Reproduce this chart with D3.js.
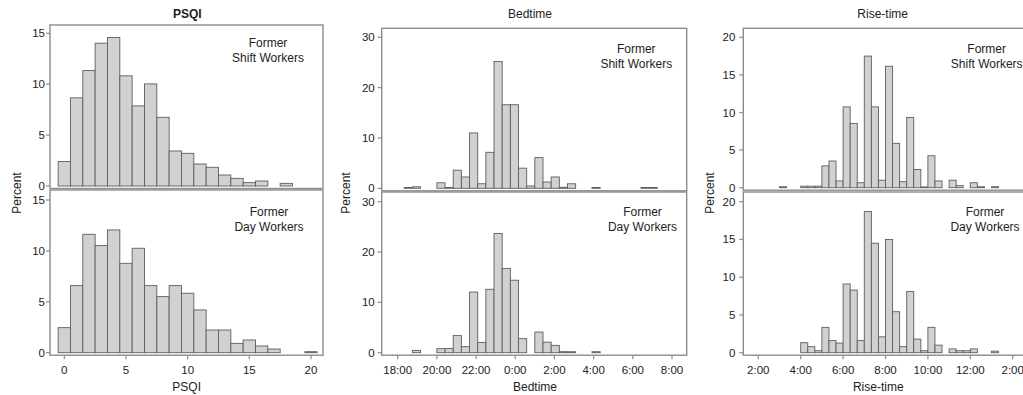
<!DOCTYPE html>
<html>
<head>
<meta charset="utf-8">
<script src="https://cdn.jsdelivr.net/npm/d3@7"></script>
<style>
  html, body { margin: 0; padding: 0; background: #fff; }
  svg { display: block; font-family: "Liberation Sans", Arial, sans-serif; }
</style>
</head>
<body>
<div id="chart"></div>
<script>
// PSQI score (1-point bins centred on the score)
const psqiBins = [0, 1, 2, 3, 4, 5, 6, 7, 8, 9, 10, 11, 12, 13, 14, 15, 16, 17, 18, 19, 20];
const psqiShift = [2.4, 8.66, 11.34, 14.03, 14.59, 10.82, 7.87, 10.03, 6.75, 3.44, 3.21, 2.16, 1.84, 1.08, 0.75, 0.33, 0.49, 0, 0.26, 0, 0];
const psqiDay = [2.46, 6.59, 11.63, 10.52, 12.06, 8.78, 10.26, 6.59, 5.51, 6.59, 5.84, 4.2, 2.23, 2.23, 0.92, 1.25, 0.66, 0.36, 0, 0, 0.1];
const psqiTicks = ['0', '5', '10', '15', '20'];
const psqiYTicks = [0, 5, 10, 15];

// Bedtime, 25-minute bins (label = bin start)
const bedBinMinutes = 25;
const bedBins = ['18:20', '18:45', '19:10', '19:35', '20:00', '20:25', '20:50', '21:15', '21:40', '22:05',
  '22:30', '22:55', '23:20', '23:45', '0:10', '0:35', '1:00', '1:25', '1:50', '2:15', '2:40', '3:05',
  '3:30', '3:55', '4:20', '4:45', '5:10', '5:35', '6:00', '6:25', '6:50'];
const bedShift = [0.15, 0.3, 0, 0, 1.1, 0.15, 3.6, 2.25, 11.0, 0.9, 7.15, 25.2, 16.6, 16.6, 4.0, 0.45,
  6.1, 1.25, 2.25, 0.2, 0.9, 0, 0, 0.15, 0, 0, 0, 0, 0, 0.15, 0.15];
const bedDay = [0, 0.46, 0, 0, 0.8, 0.85, 3.4, 1.2, 12.05, 2.05, 12.6, 23.7, 16.75, 14.4, 2.8, 0,
  4.1, 2.1, 1.46, 0.2, 0.2, 0, 0, 0.2, 0, 0, 0, 0, 0, 0, 0];
const bedTicks = ['18:00', '20:00', '22:00', '0:00', '2:00', '4:00', '6:00', '8:00'];
const bedYTicks = [0, 10, 20, 30];

// Rise-time, 20-minute bins (label = bin start)
const riseBinMinutes = 20;
const riseBins = ['3:00', '3:20', '3:40', '4:00', '4:20', '4:40', '5:00', '5:20', '5:40', '6:00', '6:20',
  '6:40', '7:00', '7:20', '7:40', '8:00', '8:20', '8:40', '9:00', '9:20', '9:40', '10:00', '10:20',
  '10:40', '11:00', '11:20', '11:40', '12:00', '12:20', '12:40', '1:00'];
const riseShift = [0.13, 0, 0, 0.2, 0.2, 0.2, 2.9, 3.55, 0.9, 10.75, 8.55, 0.66, 17.5, 10.75, 1.0, 16.15,
  5.9, 0.8, 9.35, 2.43, 0.1, 4.25, 0.9, 0, 1.0, 0.27, 0, 0.66, 0.13, 0, 0.13];
const riseDay = [0, 0, 0, 1.32, 0.8, 0.26, 3.36, 1.6, 1.28, 9.1, 8.3, 1.6, 18.7, 14.5, 2.1, 15.0,
  5.43, 0.8, 8.1, 1.8, 0.26, 3.36, 1.0, 0, 0.5, 0.26, 0.26, 0.5, 0, 0, 0.2];
const riseTicks = ['2:00', '4:00', '6:00', '8:00', '10:00', '12:00', '2:00'];
const riseYTicks = [0, 5, 10, 15, 20];

const groups = [['Former', 'Shift Workers'], ['Former', 'Day Workers']];

// clock labels -> increasing hours (wrap past midnight / noon)
const toHours = (labels, wrap) => {
  let prev = -Infinity;
  return labels.map((s) => {
    const [h, m] = s.split(':').map(Number);
    let v = h + m / 60;
    while (v <= prev) v += wrap;
    prev = v;
    return v;
  });
};

const bedStarts = toHours(bedBins, 24);
const riseStarts = toHours(riseBins, 12);

const columns = [
  {
    title: 'PSQI', bold: true, left: 50, right: 323, titleX: 187.3, xLabelX: 186.7, percentX: 16.5, yGap: 5,
    ticks: psqiTicks.map(Number), tickLabels: psqiTicks, xDomain: [0, 20], xRange: [64.3, 311],
    bins: psqiBins.map(b => [b - 0.5, b + 0.5]), yTicks: psqiYTicks,
    series: [psqiShift, psqiDay],
  },
  {
    title: 'Bedtime', bold: false, left: 381.7, right: 686.7, titleX: 530, xLabelX: 535, percentX: 346, yGap: 7,
    ticks: toHours(bedTicks, 24), tickLabels: bedTicks, xDomain: [18, 32], xRange: [397.7, 672],
    bins: bedStarts.map(s => [s, s + bedBinMinutes / 60]), yTicks: bedYTicks,
    series: [bedShift, bedDay],
  },
  {
    title: 'Rise-time', bold: false, left: 743.3, right: 1025, titleX: 882.7, xLabelX: 878.3, percentX: 710, yGap: 8,
    ticks: toHours(riseTicks, 12), tickLabels: riseTicks, xDomain: [2, 14], xRange: [758.3, 1012.7],
    bins: riseStarts.map(s => [s, s + riseBinMinutes / 60]), yTicks: riseYTicks,
    series: [riseShift, riseDay],
  },
];

// panel geometry per row / column
const geom = [
  [
    { frameTop: 25, y0: 186, yTopPx: 33.3, labelX: 268, labelY: 42.7 },
    { frameTop: 28.3, y0: 188.3, yTopPx: 37.3, labelX: 636.3, labelY: 49 },
    { frameTop: 28.3, y0: 187.7, yTopPx: 37.3, labelX: 986.7, labelY: 49 },
  ],
  [
    { frameTop: 190, y0: 352.7, yTopPx: 200, labelX: 269, labelY: 211.7 },
    { frameTop: 192, y0: 352.7, yTopPx: 201.7, labelX: 642.5, labelY: 211.7 },
    { frameTop: 192, y0: 352.7, yTopPx: 201.7, labelX: 985, labelY: 211.7 },
  ],
];

const textColor = '#222';
const axisColor = '#8c8c8c';

const svg = d3.select('#chart')
  .append('svg')
  .attr('width', 1023)
  .attr('height', 395);

columns.forEach((col, ci) => {
  const x = d3.scaleLinear().domain(col.xDomain).range(col.xRange);

  // column title
  svg.append('text')
    .attr('x', col.titleX)
    .attr('y', 18.3)
    .attr('text-anchor', 'middle')
    .attr('font-size', 12)
    .attr('font-weight', col.bold ? 'bold' : 'normal')
    .attr('fill', textColor)
    .text(col.title);

  // x axis title
  svg.append('text')
    .attr('x', col.xLabelX)
    .attr('y', 391)
    .attr('text-anchor', 'middle')
    .attr('font-size', 12)
    .attr('fill', textColor)
    .text(col.title);

  // Percent label
  svg.append('text')
    .attr('transform', `translate(${col.percentX}, 193) rotate(-90)`)
    .attr('dy', '0.35em')
    .attr('text-anchor', 'middle')
    .attr('font-size', 12)
    .attr('fill', textColor)
    .text('Percent');

  geom.forEach((row, ri) => {
    const g = row[ci];
    const yMax = d3.max(col.yTicks);
    const y = d3.scaleLinear().domain([0, yMax]).range([g.y0, g.yTopPx]);
    const frameBottom = g.y0 + 2.5;

    const panel = svg.append('g');

    // frame
    panel.append('rect')
      .attr('x', col.left)
      .attr('y', g.frameTop)
      .attr('width', col.right - col.left)
      .attr('height', frameBottom - g.frameTop)
      .attr('fill', 'none')
      .attr('stroke', axisColor)
      .attr('stroke-width', 1.4);

    // bars
    const data = col.bins.map((b, i) => ({ x0: b[0], x1: b[1], v: col.series[ri][i] }))
      .filter(d => d.v > 0);

    panel.selectAll('rect.bar')
      .data(data)
      .enter()
      .append('rect')
      .attr('class', 'bar')
      .attr('x', d => x(d.x0))
      .attr('y', d => y(d.v))
      .attr('width', d => x(d.x1) - x(d.x0))
      .attr('height', d => g.y0 - y(d.v))
      .attr('fill', '#d1d1d1')
      .attr('stroke', '#5e5e5e')
      .attr('stroke-width', 0.9);

    // y axis ticks
    const yt = panel.selectAll('g.ytick')
      .data(col.yTicks)
      .enter()
      .append('g')
      .attr('class', 'ytick')
      .attr('transform', d => `translate(0, ${y(d)})`);

    yt.append('line')
      .attr('x1', col.left - 4)
      .attr('x2', col.left)
      .attr('stroke', axisColor)
      .attr('stroke-width', 1.2);

    yt.append('text')
      .attr('x', col.left - col.yGap)
      .attr('dy', '0.35em')
      .attr('text-anchor', 'end')
      .attr('font-size', 11.5)
      .attr('fill', textColor)
      .text(d => d);

    // group label
    groups[ri].forEach((line, li) => {
      panel.append('text')
        .attr('x', g.labelX)
        .attr('y', g.labelY + li * 14.6 + 4.3)
        .attr('text-anchor', 'middle')
        .attr('font-size', 12)
        .attr('fill', textColor)
        .text(line);
    });

    // x axis only on the bottom row
    if (ri === 1) {
      const xt = panel.selectAll('g.xtick')
        .data(col.ticks)
        .enter()
        .append('g')
        .attr('class', 'xtick')
        .attr('transform', d => `translate(${x(d)}, 0)`);

      xt.append('line')
        .attr('y1', frameBottom)
        .attr('y2', frameBottom + 4)
        .attr('stroke', axisColor)
        .attr('stroke-width', 1.2);

      xt.append('text')
        .attr('y', 374)
        .attr('text-anchor', 'middle')
        .attr('font-size', 11.5)
        .attr('fill', textColor)
        .text((d, i) => col.tickLabels[i]);
    }
  });
});
</script>
</body>
</html>
